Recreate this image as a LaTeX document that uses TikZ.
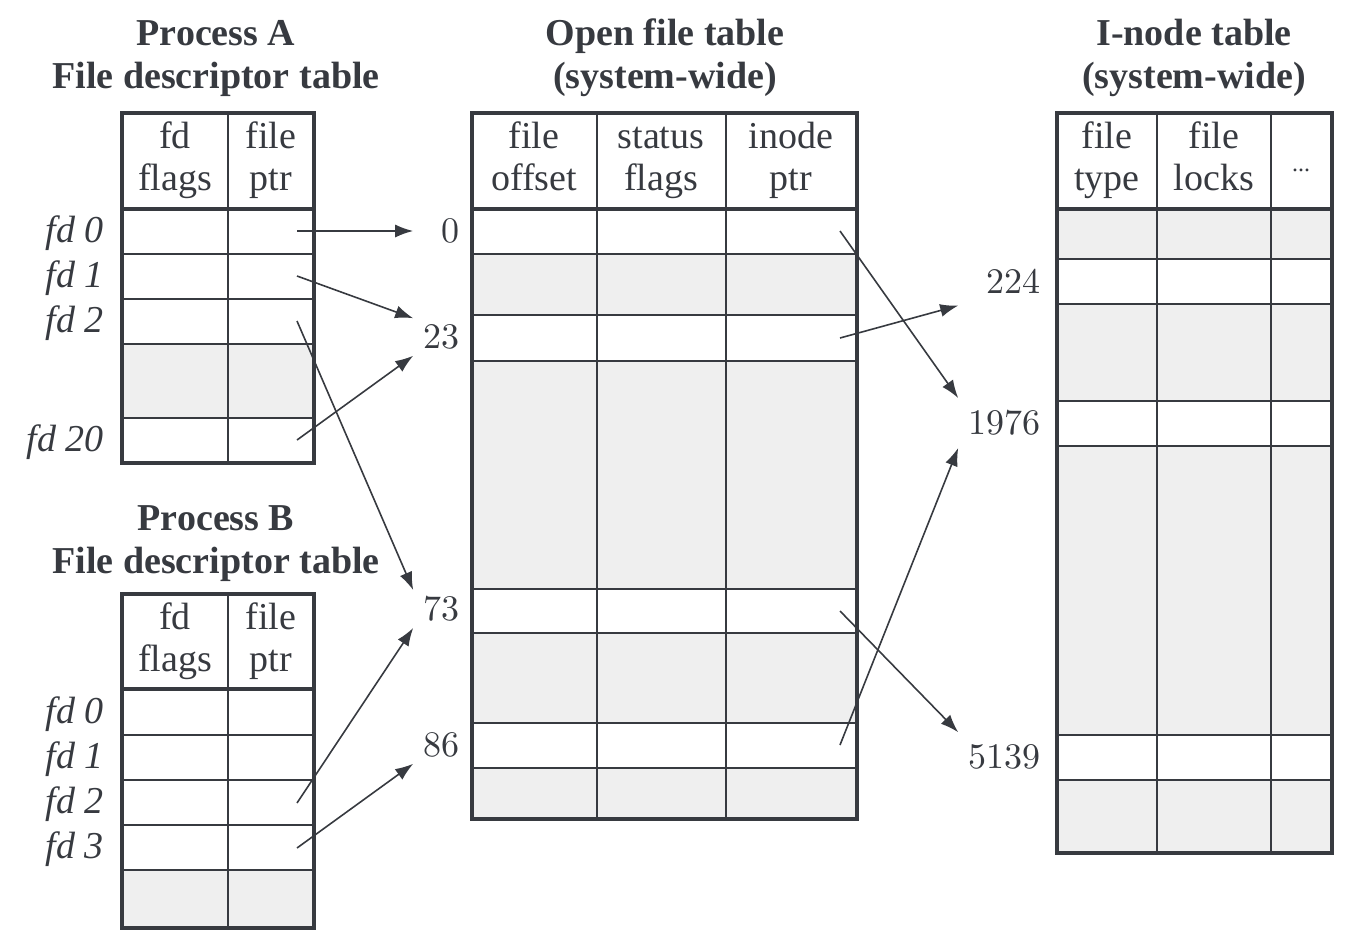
\documentclass[tikz,border=0pt]{standalone}
\usepackage{fontspec}
\setmainfont{Liberation Serif}
\newfontfamily\numfont{lmroman10-regular.otf}
\usepackage{tikz}
\usetikzlibrary{%
  arrows.meta
}
\definecolor{ink}{HTML}{373A40}
\definecolor{cellgray}{HTML}{EFEFEF}
\tikzset{
  rule/.style={ink, line width=1pt},
  frame/.style={ink, line width=1.7pt},
  link/.style={ink, line width=0.8pt, -{Latex[length=9pt, width=6.5pt]}},
  heading/.style={font=\fontsize{19}{21.5}\selectfont\bfseries, align=center},
  colhead/.style={align=center},
  fdlabel/.style={anchor=east, inner sep=0pt,
                  font=\fontsize{19}{21}\selectfont\itshape},
  leftnum/.style={anchor=east, text width=20pt, align=right,
                  inner xsep=3pt, inner ysep=3pt,
                  font=\fontsize{18}{20}\numfont},
  rightnum/.style={anchor=east, text width=38pt, align=right,
                   inner xsep=3pt, inner ysep=6pt,
                   font=\fontsize{18}{20}\numfont},
}
% two-line column heading, both lines with the same height
\newcommand{\hd}[2]{\strut#1\\\strut#2}

\begin{document}
\begin{tikzpicture}[x=0.5pt, y=-0.5pt, color=ink,
                    font=\fontsize{19}{21}\selectfont]
    \useasboundingbox (0,0) rectangle (1357,949) ;

    % process A
    \node [heading] (titleA) at (216, 58) {Process A\\File descriptor table} ;
    \fill [cellgray] (122,344) rectangle (314,418) ;
    \draw [rule] (122,254) -- (314,254) ;
    \draw [rule] (122,299) -- (314,299) ;
    \draw [rule] (122,344) -- (314,344) ;
    \draw [rule] (122,418) -- (314,418) ;
    \draw [rule] (228,113) -- (228,463) ;
    \draw [frame] (122,209) -- (314,209) ;
    \draw [frame] (122,113) rectangle (314,463) ;
    \node [colhead] (hAflags) at (175,161) {\hd{fd}{flags}} ;
    \node [colhead] (hAptr)   at (271,161) {\hd{file}{ptr}} ;
    \node [fdlabel] (fdA0)  at (104,233) {fd 0} ;
    \node [fdlabel] (fdA1)  at (104,278) {fd 1} ;
    \node [fdlabel] (fdA2)  at (104,323) {fd 2} ;
    \node [fdlabel] (fdA20) at (104,442) {fd 20} ;

    % process B
    \node [heading] (titleB) at (216,544) {Process B\\File descriptor table} ;
    \fill [cellgray] (122,870) rectangle (314,928) ;
    \draw [rule] (122,735) -- (314,735) ;
    \draw [rule] (122,780) -- (314,780) ;
    \draw [rule] (122,825) -- (314,825) ;
    \draw [rule] (122,870) -- (314,870) ;
    \draw [rule] (228,594) -- (228,928) ;
    \draw [frame] (122,689) -- (314,689) ;
    \draw [frame] (122,594) rectangle (314,928) ;
    \node [colhead] (hBflags) at (175,642) {\hd{fd}{flags}} ;
    \node [colhead] (hBptr)   at (271,642) {\hd{file}{ptr}} ;
    \node [fdlabel] (fdB0) at (104,714) {fd 0} ;
    \node [fdlabel] (fdB1) at (104,759) {fd 1} ;
    \node [fdlabel] (fdB2) at (104,804) {fd 2} ;
    \node [fdlabel] (fdB3) at (104,849) {fd 3} ;

    % open file table
    \node [heading] (titleOpen) at (665, 58) {Open file table\\(system-wide)} ;
    \fill [cellgray] (472,254) rectangle (857,315) ;
    \fill [cellgray] (472,361) rectangle (857,589) ;
    \fill [cellgray] (472,633) rectangle (857,723) ;
    \fill [cellgray] (472,768) rectangle (857,819) ;
    \draw [rule] (472,254) -- (857,254) ;
    \draw [rule] (472,315) -- (857,315) ;
    \draw [rule] (472,361) -- (857,361) ;
    \draw [rule] (472,589) -- (857,589) ;
    \draw [rule] (472,633) -- (857,633) ;
    \draw [rule] (472,723) -- (857,723) ;
    \draw [rule] (472,768) -- (857,768) ;
    \draw [rule] (597,113) -- (597,819) ;
    \draw [rule] (726,113) -- (726,819) ;
    \draw [frame] (472,209) -- (857,209) ;
    \draw [frame] (472,113) rectangle (857,819) ;
    \node [colhead] (hOffset) at (534,161) {\hd{file}{offset}} ;
    \node [colhead] (hStatus) at (661,161) {\hd{status}{flags}} ;
    \node [colhead] (hInode)  at (791,161) {\hd{inode}{ptr}} ;

    % i-node table
    \node [heading] (titleInode) at (1194, 58) {I-node table\\(system-wide)} ;
    \fill [cellgray] (1057,209) rectangle (1332,259) ;
    \fill [cellgray] (1057,304) rectangle (1332,401) ;
    \fill [cellgray] (1057,446) rectangle (1332,735) ;
    \fill [cellgray] (1057,780) rectangle (1332,853) ;
    \draw [rule] (1057,259) -- (1332,259) ;
    \draw [rule] (1057,304) -- (1332,304) ;
    \draw [rule] (1057,401) -- (1332,401) ;
    \draw [rule] (1057,446) -- (1332,446) ;
    \draw [rule] (1057,735) -- (1332,735) ;
    \draw [rule] (1057,780) -- (1332,780) ;
    \draw [rule] (1157,113) -- (1157,853) ;
    \draw [rule] (1271,113) -- (1271,853) ;
    \draw [frame] (1057,209) -- (1332,209) ;
    \draw [frame] (1057,113) rectangle (1332,853) ;
    \node [colhead] (hType)  at (1107,161) {\hd{file}{type}} ;
    \node [colhead] (hLocks) at (1214,161) {\hd{file}{locks}} ;
    \node [font=\fontsize{12}{14}\selectfont] (hMore) at (1301,170) {...} ;

    % offsets and i-node numbers
    \node [leftnum] (n0)  at (466,231) {0} ;
    \node [leftnum] (n23) at (466,337) {23} ;
    \node [leftnum] (n73) at (466,609) {73} ;
    \node [leftnum] (n86) at (466,745) {86} ;
    \node [rightnum] (n224)  at (1047,281) {224} ;
    \node [rightnum] (n1976) at (1047,423) {1976} ;
    \node [rightnum] (n5139) at (1047,757) {5139} ;

    \coordinate (pA0)  at (297,231) ;
    \coordinate (pA1)  at (297,276) ;
    \coordinate (pA2)  at (297,321) ;
    \coordinate (pA20) at (297,440) ;
    \coordinate (pB2)  at (297,803) ;
    \coordinate (pB3)  at (297,848) ;
    \coordinate (o0) at (840,231) ;
    \coordinate (o2) at (840,338) ;
    \coordinate (o4) at (840,611) ;
    \coordinate (o6) at (840,745) ;

    \draw [link] (pA0)  -- (n0.west) ;
    \draw [link] (pA1)  -- (n23.north west) ;
    \draw [link] (pA2)  -- (n73.north west) ;
    \draw [link] (pA20) -- (n23.south west) ;
    \draw [link] (pB2)  -- (n73.south west) ;
    \draw [link] (pB3)  -- (n86.south west) ;

    \draw [link] (o0) -- (n1976.north west) ;
    \draw [link] (o2) -- (n224.south west) ;
    \draw [link] (o4) -- (n5139.north west) ;
    \draw [link] (o6) -- (n1976.south west) ;
\end{tikzpicture}
\end{document}
